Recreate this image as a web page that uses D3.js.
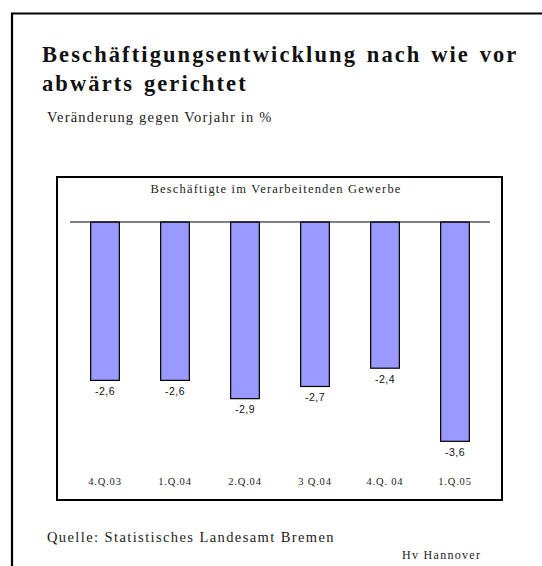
<!DOCTYPE html>
<html>
<head>
<meta charset="utf-8">
<script src="https://cdn.jsdelivr.net/npm/d3@7"></script>
<style>
  html, body { margin: 0; padding: 0; background: #fff; }
  svg { display: block; }
</style>
</head>
<body>
<svg id="chart" width="542" height="566"></svg>
<script>
const categories = ["4.Q.03", "1.Q.04", "2.Q.04", "3 Q.04", "4.Q. 04", "1.Q.05"];
const values = [-2.6, -2.6, -2.9, -2.7, -2.4, -3.6];
const valueLabels = ["-2,6", "-2,6", "-2,9", "-2,7", "-2,4", "-3,6"];
const titleLines = ["Beschäftigungsentwicklung nach wie vor", "abwärts gerichtet"];
const subtitle = "Veränderung gegen Vorjahr in %";
const chartTitle = "Beschäftigte im Verarbeitenden Gewerbe";
const source = "Quelle: Statistisches Landesamt Bremen";
const credit = "Hv Hannover";

const svg = d3.select("#chart");
const serif = "'Liberation Serif', 'Times New Roman', serif";
const sans = "'Liberation Sans', Arial, sans-serif";

svg.append("rect").attr("width", 542).attr("height", 566).attr("fill", "#fff");

// outer frame (extends beyond view on right/bottom)
svg.append("path")
  .attr("d", "M12,600 L12,13.5 L600,13.5")
  .attr("fill", "none").attr("stroke", "#000").attr("stroke-width", 2.2);

// titles
svg.selectAll("text.title").data(titleLines).enter().append("text")
  .attr("class", "title")
  .attr("x", 42).attr("y", (d, i) => 62 + i * 29)
  .attr("font-family", serif).attr("font-weight", "bold")
  .attr("font-size", 22.5).attr("letter-spacing", 2.1).attr("word-spacing", 2)
  .attr("fill", "#111").text(d => d);

svg.append("text").attr("x", 47).attr("y", 122)
  .attr("font-family", serif).attr("font-size", 14.5).attr("letter-spacing", 1.2)
  .attr("fill", "#222").text(subtitle);

// inner chart box
svg.append("rect").attr("x", 57).attr("y", 177).attr("width", 445).attr("height", 323)
  .attr("fill", "none").attr("stroke", "#000").attr("stroke-width", 2);

svg.append("text").attr("x", 276).attr("y", 193).attr("text-anchor", "middle")
  .attr("font-family", serif).attr("font-size", 12.5).attr("letter-spacing", 1.2)
  .attr("fill", "#222").text(chartTitle);

const x = d3.scaleBand().domain(categories).range([70, 490])
  .paddingInner(0.59).paddingOuter(0.295);
const y = d3.scaleLinear().domain([0, -3.6]).range([222, 441.3]);

const g = svg.append("g");
g.selectAll("rect.bar").data(values).enter().append("rect")
  .attr("class", "bar")
  .attr("x", (d, i) => x(categories[i]))
  .attr("y", y(0))
  .attr("width", x.bandwidth())
  .attr("height", d => y(d) - y(0))
  .attr("fill", "#9999FF").attr("stroke", "#000").attr("stroke-width", 1.2);

// zero line
svg.append("line").attr("x1", 70).attr("x2", 490).attr("y1", y(0)).attr("y2", y(0))
  .attr("stroke", "#000").attr("stroke-width", 1.2);

g.selectAll("text.val").data(values).enter().append("text")
  .attr("class", "val")
  .attr("x", (d, i) => x(categories[i]) + x.bandwidth() / 2)
  .attr("y", d => y(d) + 14.5)
  .attr("text-anchor", "middle")
  .attr("font-family", sans).attr("font-size", 10.5).attr("letter-spacing", 0.5)
  .attr("fill", "#111").text((d, i) => valueLabels[i]);

// category axis labels
const axis = d3.axisBottom(x).tickSize(0).tickPadding(0);
const ag = svg.append("g").attr("transform", "translate(0,477)").call(axis);
ag.select(".domain").remove();
ag.selectAll("text")
  .attr("font-family", serif).attr("font-size", 10.5).attr("letter-spacing", 0.8)
  .attr("fill", "#222").attr("dy", "0.75em");

svg.append("text").attr("x", 47).attr("y", 542)
  .attr("font-family", serif).attr("font-size", 14.5).attr("letter-spacing", 1.4)
  .attr("fill", "#222").text(source);

svg.append("text").attr("x", 402).attr("y", 559)
  .attr("font-family", serif).attr("font-size", 12).attr("letter-spacing", 1.3)
  .attr("fill", "#222").text(credit);
</script>
</body>
</html>
